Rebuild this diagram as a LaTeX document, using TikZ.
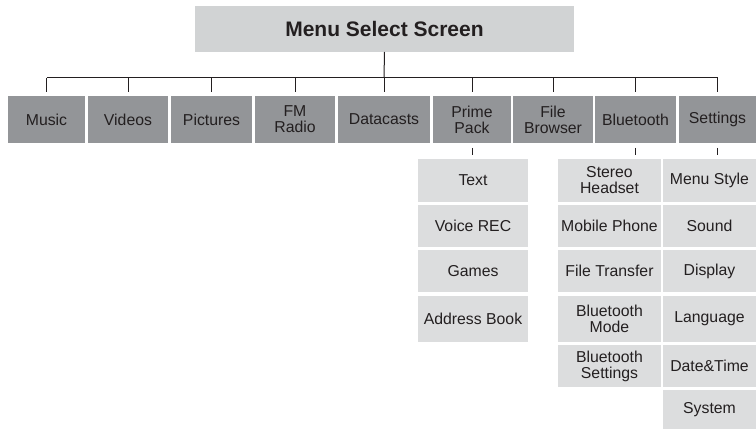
\documentclass[tikz,border=0pt]{standalone}
\usepackage{fontspec}
\setmainfont{Liberation Sans}
\definecolor{dark}{HTML}{939598}
\definecolor{light}{HTML}{DCDDDE}
\definecolor{topc}{HTML}{D1D3D4}
\definecolor{ink}{HTML}{231F20}
\begin{document}
\begin{tikzpicture}[x=1pt,y=-1pt,
  every node/.style={inner sep=0pt, outer sep=0pt, align=center, text=ink,
    font=\fontsize{15.8}{16}\selectfont},
  mainbox/.style={fill=dark, minimum height=47pt},
  subbox/.style={fill=light},
  topbox/.style={fill=topc, minimum width=379pt, minimum height=46pt,
    font=\fontsize{21}{24}\selectfont\bfseries},
  conn/.style={draw=ink, line width=1pt}]
\useasboundingbox (0,0) rectangle (756,430);
% top
\node[topbox] (top) at (384.5,29) {Menu Select Screen};
% main row
\node[mainbox, minimum width=77pt] (music) at (46.5,119.5) {Music};
\node[mainbox, minimum width=80pt] (videos) at (128,119.5) {Videos};
\node[mainbox, minimum width=81pt] (pictures) at (211.5,119.5) {Pictures};
\node[mainbox, minimum width=80pt] (fm) at (295,119.5) {FM\\Radio};
\node[mainbox, minimum width=92pt] (datacasts) at (384,119.5) {Datacasts};
\node[mainbox, minimum width=78pt] (prime) at (472,119.5) {Prime\\Pack};
\node[mainbox, minimum width=80pt] (file) at (553,119.5) {File\\Browser};
\node[mainbox, minimum width=81pt] (bt) at (635.5,119.5) {Bluetooth};
\node[mainbox, minimum width=77pt] (settings) at (717.5,119.5) {Settings};
% prime pack column
\node[subbox, minimum width=110pt, minimum height=43pt] (text) at (473,180.5) {Text};
\node[subbox, minimum width=110pt, minimum height=42pt] (voice) at (473,226) {Voice REC};
\node[subbox, minimum width=110pt, minimum height=42pt] (games) at (473,271) {Games};
\node[subbox, minimum width=110pt, minimum height=46pt] (address) at (473,319) {Address Book};
% bluetooth column
\node[subbox, minimum width=103pt, minimum height=43pt] (stereo) at (609.5,180.5) {Stereo\\Headset};
\node[subbox, minimum width=103pt, minimum height=42pt] (mobile) at (609.5,226) {Mobile Phone};
\node[subbox, minimum width=103pt, minimum height=42pt] (transfer) at (609.5,271) {File Transfer};
\node[subbox, minimum width=103pt, minimum height=46pt] (btmode) at (609.5,319) {Bluetooth\\Mode};
\node[subbox, minimum width=103pt, minimum height=42pt] (btset) at (609.5,366) {Bluetooth\\Settings};
% settings column
\node[subbox, minimum width=93pt, minimum height=43pt] (menustyle) at (709.5,180.5) {Menu Style};
\node[subbox, minimum width=93pt, minimum height=42pt] (sound) at (709.5,226) {Sound};
\node[subbox, minimum width=93pt, minimum height=42pt] (display) at (709.5,271) {Display};
\node[subbox, minimum width=93pt, minimum height=46pt] (language) at (709.5,319) {Language};
\node[subbox, minimum width=93pt, minimum height=42pt] (datetime) at (709.5,366) {Date\&Time};
\node[subbox, minimum width=93pt, minimum height=39pt] (system) at (709.5,409.5) {System};
% connectors
\coordinate (bus) at (0,78);
\draw[conn] (top.south) -- (datacasts.north |- bus);
\draw[conn] (music.north |- bus) -- (settings.north |- bus);
\foreach \n in {music,videos,pictures,fm,datacasts,prime,file,bt,settings}
  \draw[conn, shorten <=4pt] (\n.north) -- (\n.north |- bus);
\draw[conn, shorten <=5pt, shorten >=4pt] (prime.south) -- (prime.south |- text.north);
\draw[conn, shorten <=5pt, shorten >=4pt] (bt.south) -- (bt.south |- stereo.north);
\draw[conn, shorten <=5pt, shorten >=4pt] (settings.south) -- (settings.south |- menustyle.north);
\end{tikzpicture}
\end{document}
